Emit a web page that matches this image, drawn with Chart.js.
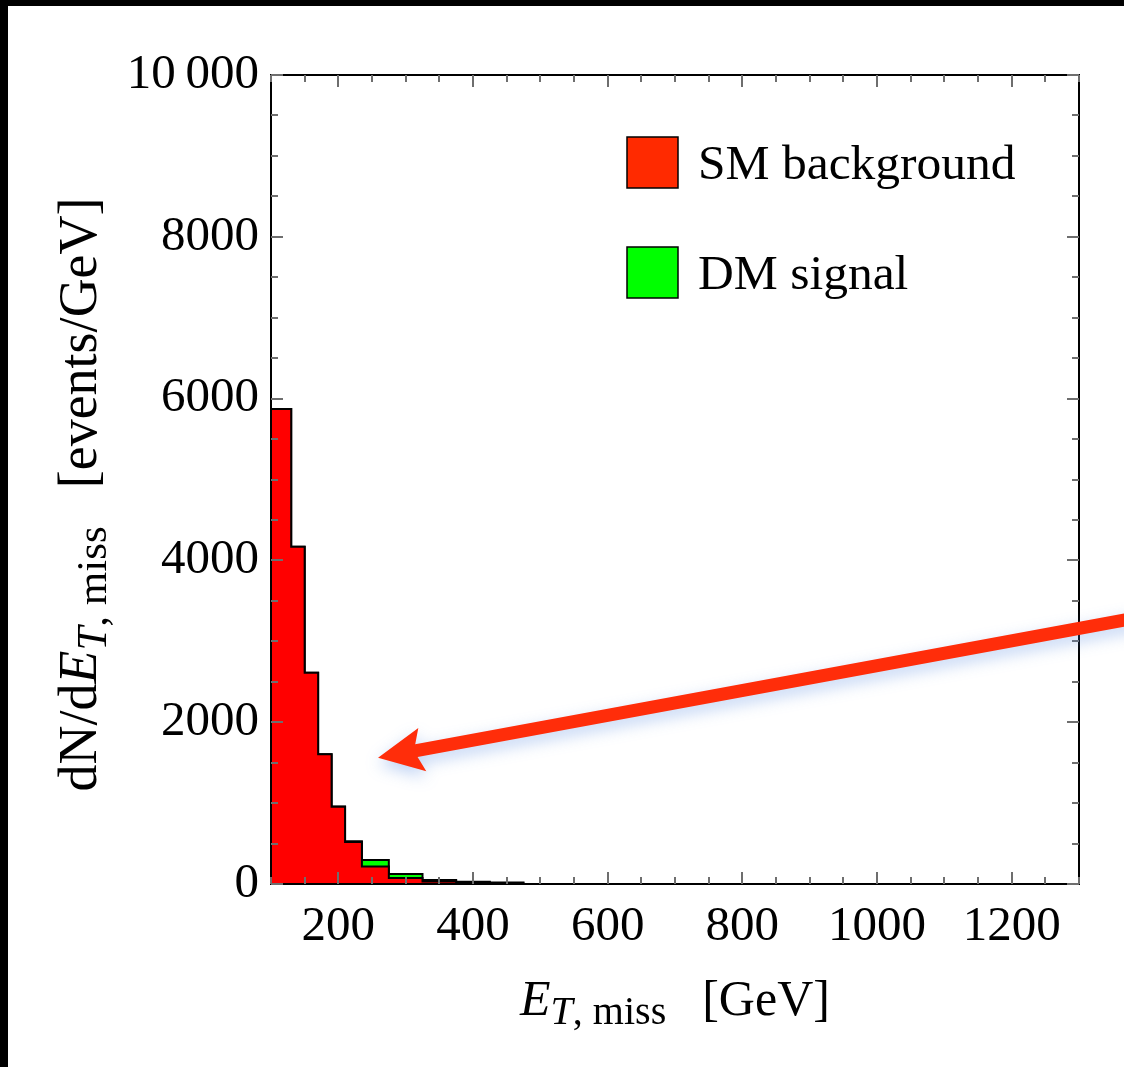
<!DOCTYPE html>
<html>
<head>
<meta charset="utf-8">
<title>Missing transverse energy histogram</title>
<script src="https://cdn.jsdelivr.net/npm/chart.js@4.4.1/dist/chart.umd.min.js"></script>
<style>
  html, body { margin: 0; padding: 0; background: #fff; }
  #frame { width: 1116px; height: 1061px; border-left: 8px solid #000; border-top: 6px solid #000; }
  canvas { display: block; }
</style>
</head>
<body>
<div id="frame"><canvas id="histChart" width="1116" height="1061"></canvas></div>
<script>
// bin edges in GeV (variable widths), values in events/GeV
const binEdges = [100, 130, 150, 170, 190, 210, 235, 275, 325, 375, 425, 475];
const smBackground = [5870, 4170, 2610, 1605, 955, 520, 215, 75, 30, 14, 6];
const dmSignal = [0, 0, 0, 0, 4, 8, 82, 50, 20, 14, 12];
const seriesLabels = ['SM background', 'DM signal'];

const xTicks = [200, 400, 600, 800, 1000, 1200];
const yTicks = [0, 2000, 4000, 6000, 8000, 10000];

// arrow annotation, in data units
const arrowTip = { x: 259, y: 1560 };
const arrowTail = { x: 1391, y: 3300 };

const serif = '"Liberation Serif", "Times New Roman", serif';

// one point per left bin edge, closed at the last edge
function stepPoints(vals) {
    const pts = vals.map((v, i) => ({ x: binEdges[i], y: v }));
    pts.push({ x: binEdges[binEdges.length - 1], y: 0 });
    return pts;
}

function drawRich(ctx, parts, x, y, rotate) {
    ctx.save();
    ctx.translate(x, y);
    if (rotate) ctx.rotate(-Math.PI / 2);
    let total = 0;
    parts.forEach(p => { ctx.font = p.font; total += ctx.measureText(p.text).width + (p.gap || 0); });
    let cx = -total / 2;
    ctx.fillStyle = '#000';
    ctx.textAlign = 'left';
    ctx.textBaseline = 'alphabetic';
    parts.forEach(p => {
        ctx.font = p.font;
        ctx.fillText(p.text, cx, p.dy || 0);
        cx += ctx.measureText(p.text).width + (p.gap || 0);
    });
    ctx.restore();
}

const frameTicks = {
    id: 'frameTicks',
    afterDatasetsDraw(chart) {
        const { ctx, chartArea: a, scales: { x, y } } = chart;
        ctx.save();
        ctx.strokeStyle = '#000';
        ctx.lineWidth = 2;
        ctx.strokeRect(a.left, a.top, a.right - a.left, a.bottom - a.top);

        ctx.strokeStyle = '#6e6e6e';
        ctx.lineWidth = 2;
        ctx.beginPath();
        for (let v = 100; v <= 1300; v += 50) {
            const px = Math.round(x.getPixelForValue(v));
            const len = xTicks.includes(v) ? 12 : 7;
            ctx.moveTo(px, a.bottom); ctx.lineTo(px, a.bottom - len);
            ctx.moveTo(px, a.top); ctx.lineTo(px, a.top + len);
        }
        for (let v = 0; v <= 10000; v += 500) {
            const py = Math.round(y.getPixelForValue(v));
            const len = yTicks.includes(v) ? 12 : 7;
            ctx.moveTo(a.left, py); ctx.lineTo(a.left + len, py);
            ctx.moveTo(a.right, py); ctx.lineTo(a.right - len, py);
        }
        ctx.stroke();
        ctx.restore();
    }
};

const boxLegend = {
    id: 'boxLegend',
    afterDraw(chart) {
        const { ctx, chartArea: a } = chart;
        const swatch = ['#ff2a00', '#00ff00'];
        ctx.save();
        chart.data.datasets.forEach((ds, i) => {
            const left = a.right - 452;
            const top = a.top + 62 + i * 110;
            ctx.fillStyle = swatch[i];
            ctx.fillRect(left, top, 51, 51);
            ctx.strokeStyle = '#000';
            ctx.lineWidth = 1.5;
            ctx.strokeRect(left, top, 51, 51);
            ctx.fillStyle = '#000';
            ctx.font = '49.5px ' + serif;
            ctx.textBaseline = 'alphabetic';
            ctx.fillText(ds.label, left + 71, top + 42);
        });
        ctx.restore();
    }
};

const axisTitles = {
    id: 'axisTitles',
    afterDraw(chart) {
        const { ctx, chartArea: a } = chart;
        drawRich(ctx, [
            { text: 'E', font: 'italic 50px ' + serif },
            { text: 'T', font: 'italic 40px ' + serif, dy: 9 },
            { text: ', miss', font: '40px ' + serif, dy: 9, gap: 36 },
            { text: '[GeV]', font: '50px ' + serif }
        ], (a.left + a.right) / 2, 1009, false);
        drawRich(ctx, [
            { text: 'dN/d', font: '54px ' + serif },
            { text: 'E', font: 'italic 54px ' + serif },
            { text: 'T', font: 'italic 43px ' + serif, dy: 10 },
            { text: ', miss', font: '43px ' + serif, dy: 10, gap: 38 },
            { text: '[events/GeV]', font: '54px ' + serif }
        ], 88, (a.top + a.bottom) / 2 + 15, true);
    }
};

const arrowNote = {
    id: 'arrowNote',
    afterDraw(chart) {
        const { ctx, scales: { x, y } } = chart;
        const tx = x.getPixelForValue(arrowTip.x), ty = y.getPixelForValue(arrowTip.y);
        const sx = x.getPixelForValue(arrowTail.x), sy = y.getPixelForValue(arrowTail.y);
        const len = Math.hypot(sx - tx, sy - ty);
        const ang = Math.atan2(sy - ty, sx - tx);
        const headLen = 45, headHalf = 22, shaftHalf = 6.5;
        ctx.save();
        ctx.translate(tx, ty);
        ctx.rotate(ang);
        ctx.beginPath();
        ctx.moveTo(0, 0);
        ctx.lineTo(headLen, -headHalf);
        ctx.lineTo(headLen - 6, -shaftHalf);
        ctx.lineTo(len, -shaftHalf);
        ctx.lineTo(len, shaftHalf);
        ctx.lineTo(headLen - 6, shaftHalf);
        ctx.lineTo(headLen, headHalf);
        ctx.closePath();
        ctx.shadowColor = 'rgba(90, 140, 225, 0.4)';
        ctx.shadowBlur = 16;
        ctx.shadowOffsetY = 6;
        ctx.fillStyle = '#ff2d0a';
        ctx.fill();
        ctx.restore();
    }
};

const ctx = document.getElementById('histChart').getContext('2d');

new Chart(ctx, {
    type: 'line',
    data: {
        datasets: [{
            label: seriesLabels[0],
            data: stepPoints(smBackground),
            stepped: true,
            fill: 'origin',
            backgroundColor: '#ff0000',
            borderColor: '#000',
            borderWidth: 2,
            pointRadius: 0
        }, {
            label: seriesLabels[1],
            data: stepPoints(dmSignal),
            stepped: true,
            fill: '-1',
            backgroundColor: '#00ff00',
            borderColor: '#000',
            borderWidth: 2,
            pointRadius: 0
        }]
    },
    options: {
        responsive: false,
        animation: false,
        devicePixelRatio: 1,
        layout: { padding: { top: 69, right: 45, left: 0, bottom: 0 } },
        plugins: {
            legend: { display: false },
            tooltip: { enabled: false }
        },
        scales: {
            x: {
                type: 'linear',
                min: 100,
                max: 1300,
                grid: { display: false },
                border: { display: false },
                ticks: {
                    font: { family: serif, size: 49 },
                    color: '#000',
                    padding: 6,
                    maxRotation: 0,
                    autoSkip: false,
                    callback: v => String(v)
                },
                afterBuildTicks: s => { s.ticks = xTicks.map(v => ({ value: v })); },
                afterFit: s => { s.height = 183; }
            },
            y: {
                min: 0,
                max: 10000,
                stacked: true,
                grid: { display: false },
                border: { display: false },
                ticks: {
                    font: { family: serif, size: 49 },
                    color: '#000',
                    padding: 4,
                    callback: v => v === 10000 ? '10\u2009000' : String(v)
                },
                afterBuildTicks: s => { s.ticks = yTicks.map(v => ({ value: v })); },
                afterFit: s => { s.width = 263; }
            }
        }
    },
    plugins: [frameTicks, boxLegend, axisTitles, arrowNote]
});
</script>
</body>
</html>
